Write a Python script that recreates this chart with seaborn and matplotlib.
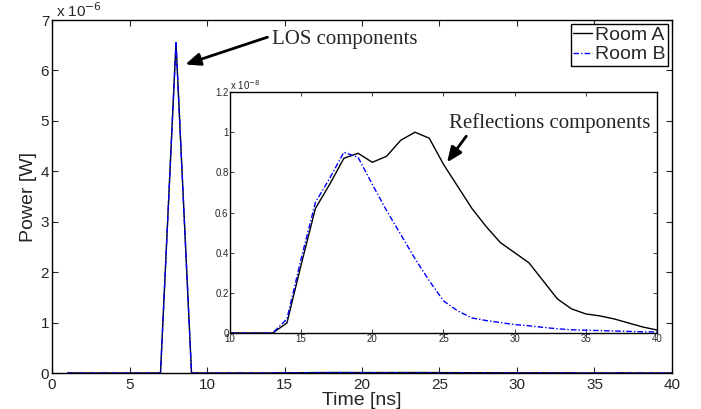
import numpy as np
import pandas as pd
import matplotlib
matplotlib.use('Agg')
import matplotlib.pyplot as plt
from matplotlib.ticker import FuncFormatter
import seaborn as sns

# tiempo en ns
time_ns = list(range(1, 41))
# componente LOS (igual en ambas salas), en W
los_time = 8
los_peak = 6.55e-6
# componentes de reflexion (x 1e-8 W) para t = 10..40
refl_time = list(range(10, 41))
refl_a = [0, 0, 0, 0, 0.05, 0.34, 0.62, 0.74, 0.87, 0.895, 0.85, 0.88, 0.96, 1.0, 0.97,
          0.84, 0.73, 0.62, 0.53, 0.45, 0.40, 0.35, 0.26, 0.17, 0.12, 0.095, 0.085,
          0.07, 0.05, 0.03, 0.015]
refl_b = [0, 0, 0, 0, 0.07, 0.37, 0.65, 0.77, 0.90, 0.875, 0.74, 0.61, 0.49, 0.37, 0.26,
          0.16, 0.11, 0.075, 0.062, 0.052, 0.042, 0.036, 0.028, 0.021, 0.016, 0.014,
          0.012, 0.010, 0.008, 0.006, 0.005]
rooms = ['Room A', 'Room B']

def build_series(refl):
    vals = []
    for t in time_ns:
        v = los_peak if t == los_time else 0.0
        if t in refl_time:
            v += refl[refl_time.index(t)] * 1e-8
        vals.append(v)
    return vals

df = pd.DataFrame({
    'Time': time_ns * 2,
    'Power': build_series(refl_a) + build_series(refl_b),
    'Room': [rooms[0]] * len(time_ns) + [rooms[1]] * len(time_ns),
})
df_in = pd.DataFrame({
    'Time': refl_time * 2,
    'Power': [v * 1e-8 for v in refl_a] + [v * 1e-8 for v in refl_b],
    'Room': [rooms[0]] * len(refl_time) + [rooms[1]] * len(refl_time),
})

sns.set_style('ticks')
plt.rcParams['font.family'] = ['Liberation Sans', 'DejaVu Sans']
plt.rcParams['xtick.direction'] = 'in'
plt.rcParams['ytick.direction'] = 'in'

palette = {'Room A': 'black', 'Room B': '#0000ff'}
dashes = {'Room A': '', 'Room B': (4, 1.5, 1, 1.5)}
arrow = dict(arrowstyle='-|>,head_length=0.9,head_width=0.38', color='black', lw=2,
             shrinkA=0, shrinkB=0)

fig = plt.figure(figsize=(7.01, 4.09), dpi=100)
ax = fig.add_axes([0.0742, 0.088, 0.8844, 0.863])
sns.lineplot(data=df, x='Time', y='Power', hue='Room', style='Room', palette=palette,
             dashes=dashes, linewidth=1, legend=False, ax=ax)
ax.set_xlim(0, 40)
ax.set_ylim(0, 7e-6)
ax.set_xticks(range(0, 41, 5))
ax.set_yticks([i * 1e-6 for i in range(8)])
ax.yaxis.set_major_formatter(FuncFormatter(lambda v, p: '%g' % round(v * 1e6, 6)))
ax.tick_params(top=True, right=True, labelsize=11, length=4, width=0.8)
ax.tick_params(axis='y', pad=2)
for s in ax.spines.values():
    s.set_linewidth(1.0)
    s.set_color('black')
ax.set_xlabel('Time [ns]', fontsize=14, labelpad=0)
ax.set_ylabel('Power [W]', fontsize=14, labelpad=3)
ax.text(0.006, 1.0, 'x 10$^{-6}$', transform=ax.transAxes, fontsize=11, va='bottom', ha='left')
ax.legend(handles=ax.lines[:2], labels=rooms, loc='upper right', fontsize=14,
          frameon=True, fancybox=False, edgecolor='black', framealpha=1,
          borderaxespad=0.2, handlelength=1.0, handletextpad=0.15, borderpad=0.12,
          labelspacing=0.1)
ax.annotate('', xy=(8.6, 6.12e-6), xytext=(13.9, 6.66e-6), arrowprops=arrow)
ax.text(14.2, 6.62e-6, 'LOS components', fontsize=15, family=['Liberation Serif'],
        va='center', ha='left')

# grafico interior
axi = fig.add_axes([0.3281, 0.1858, 0.6091, 0.5892])
sns.lineplot(data=df_in, x='Time', y='Power', hue='Room', style='Room', palette=palette,
             dashes=dashes, linewidth=1, legend=False, ax=axi)
axi.set_xlim(10, 40)
axi.set_ylim(0, 1.2e-8)
axi.set_xticks(range(10, 41, 5))
axi.set_yticks([i * 0.2e-8 for i in range(7)])
axi.yaxis.set_major_formatter(FuncFormatter(lambda v, p: '%g' % round(v * 1e8, 6)))
axi.tick_params(top=True, right=True, labelsize=7, length=3, width=0.6, pad=1)
for s in axi.spines.values():
    s.set_linewidth(1.0)
    s.set_color('black')
axi.set_xlabel('')
axi.set_ylabel('')
axi.text(0.0, 1.0, 'x 10$^{-8}$', transform=axi.transAxes, fontsize=7, va='bottom', ha='left')
axi.annotate('', xy=(25.25, 0.85e-8), xytext=(26.6, 0.98e-8), arrowprops=arrow)
axi.text(25.4, 1.045e-8, 'Reflections components', fontsize=15,
         family=['Liberation Serif'], va='center', ha='left')

fig.savefig('out.png', dpi=100)
